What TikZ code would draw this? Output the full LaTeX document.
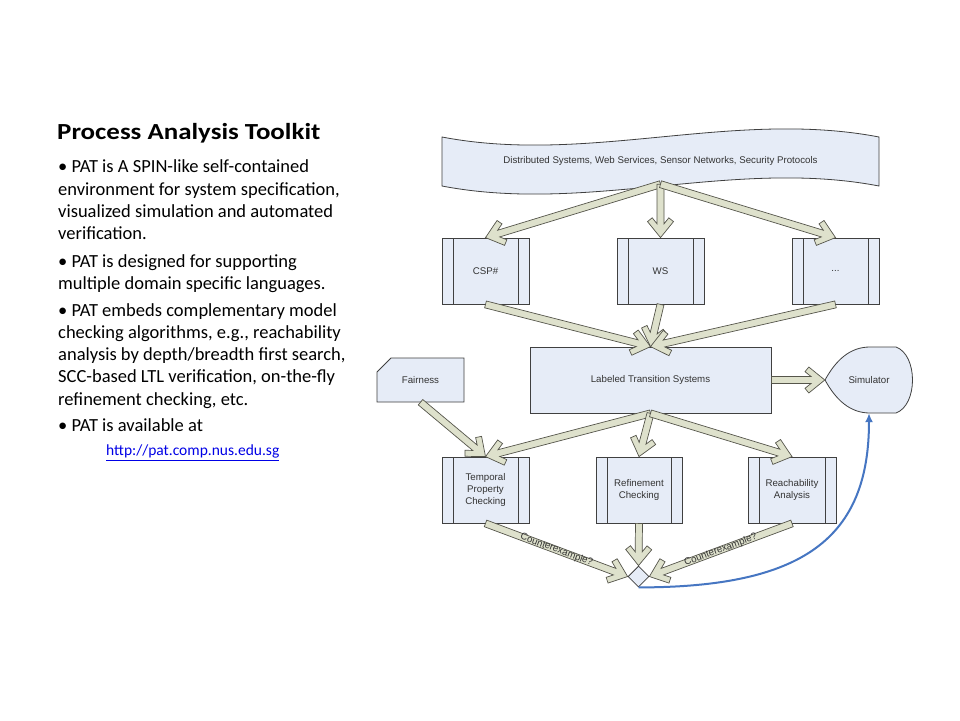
\documentclass[tikz,border=0pt]{standalone}
\usepackage{fontspec}
\setmainfont{Carlito}
\newfontfamily\diafont{Liberation Sans}
\usetikzlibrary{shapes.geometric, arrows.meta, positioning, calc}

\definecolor{boxfill}{RGB}{230,236,247}
\definecolor{boxline}{RGB}{64,64,64}
\definecolor{arrowfill}{RGB}{222,225,204}
\definecolor{arrowline}{RGB}{85,85,75}
\definecolor{simblue}{RGB}{70,118,194}
\definecolor{linkblue}{RGB}{0,0,230}
\definecolor{diatext}{RGB}{51,51,51}

% wide arrow with an open chevron head, tip at #2
\newcommand{\fatarrow}[2]{%
  \draw[fatflow] let \p1=($(#2)-(#1)$), \n1={atan2(\y1,\x1)}, \n2={veclen(\x1,\y1)} in
    [shift={(#2)}, rotate=\n1]
    (0pt,0pt) -- (-16pt,13pt) -- (-19.8pt,8.3pt) -- (-13.8pt,3.5pt) -- ({-1pt*\n2},3.5pt)
    -- ({-1pt*\n2},-3.5pt) -- (-13.8pt,-3.5pt) -- (-19.8pt,-8.3pt) -- (-16pt,-13pt) -- cycle;}

\begin{document}
\begin{tikzpicture}[
  x=1pt, y=-1pt,
  >=stealth,
  diafontsize/.style={font=\diafont\fontsize{9.7}{12}\selectfont, text=diatext},
  procbox/.style={draw=boxline, fill=boxfill, line width=0.8pt, rectangle, minimum width=87pt, minimum height=66pt, inner sep=2pt, align=center, diafontsize,
    path picture={\draw[boxline, line width=0.8pt]
      ([xshift=11pt]path picture bounding box.north west) -- ([xshift=11pt]path picture bounding box.south west)
      ([xshift=-11pt]path picture bounding box.north east) -- ([xshift=-11pt]path picture bounding box.south east);}},
  plainbox/.style={draw=boxline, fill=boxfill, line width=0.8pt, rectangle, minimum width=241pt, minimum height=66pt, align=center, diafontsize},
  textonly/.style={rectangle, inner sep=0pt, align=center, diafontsize},
  boxshape/.style={draw=boxline, fill=boxfill, line width=0.8pt, line join=miter},
  decision/.style={draw=boxline, fill=boxfill, line width=0.8pt, diamond, minimum width=21pt, minimum height=21pt, inner sep=0pt},
  fatflow/.style={draw=arrowline, fill=arrowfill, line width=0.7pt, line join=miter},
  simflow/.style={-{Latex[length=9pt, width=8pt]}, draw=simblue, line width=2pt},
  cexlabel/.style={font=\diafont\fontsize{9.7}{11}\selectfont, text=diatext, inner sep=0pt},
  titletext/.style={anchor=base west, inner sep=0pt, font=\bfseries\fontsize{23}{26}\selectfont},
  bullettext/.style={anchor=base west, inner sep=0pt, align=left, font=\fontsize{18.5}{22.3}\selectfont},
  linktext/.style={anchor=base west, inner sep=0pt, text=linkblue, font=\fontsize{15.5}{18}\selectfont}
]
\fill[white] (0,0) rectangle (960,720);
\useasboundingbox (0,0) rectangle (960,720);

% left column (base = last line)
\node[titletext] (Title) at (57,139.3) {\scalebox{1.17}[1]{Process Analysis Toolkit}};
\node[bullettext] (PatIntro) at (58,239.6) {• PAT is A SPIN-like self-contained\\environment for system specification,\\visualized simulation and automated\\verification.};
\node[bullettext] (PatLang) at (58,289.8) {• PAT is designed for supporting\\multiple domain specific languages.};
\node[bullettext] (PatAlgo) at (58,405.2) {• PAT embeds complementary model\\checking algorithms, e.g., reachability\\analysis by depth/breadth first search,\\SCC-based LTL verification, on-the-fly\\refinement checking, etc.};
\node[bullettext] (PatAvail) at (58,431) {• PAT is available at};
\node[linktext] (PatLink) at (106,455.7) {\underline{http://pat.comp.nus.edu.sg}};

% outlines drawn directly
\draw[boxshape] (442,137) .. controls (588,165) and (733,109) .. (879,137) -- (879,186)
  .. controls (733,158) and (588,214) .. (442,186) -- cycle;
\draw[boxshape] (391,358) -- (464,358) -- (464,402) -- (377,402) -- (377,372) -- cycle;
\draw[boxshape] (825,380) .. controls (836,360) and (850,347) .. (870,347) -- (896,347)
  .. controls (918,355) and (918,405) .. (896,413) -- (870,413) .. controls (850,413) and (836,400) .. cycle;

\node[textonly, minimum width=437pt, minimum height=46pt] (Banner) at (660.5,161) {Distributed Systems, Web Services, Sensor Networks, Security Protocols};

\node[procbox] (CSP) at (485.5,271) {CSP\#};
\node[procbox] (WS) at (660.5,271) {WS};
\node[procbox] (More) at (835.5,271) {...};

\node[plainbox] (LTS) at (650.5,380) {Labeled Transition Systems};
\node[textonly, minimum width=88pt, minimum height=66pt] (Sim) at (869,380) {Simulator};
\node[textonly, minimum width=87pt, minimum height=44pt] (Fair) at (420.5,380) {Fairness};

\node[procbox] (Temp) at (485.5,490) {Temporal\\Property\\Checking};
\node[procbox, minimum width=86pt] (Refine) at (639,490) {Refinement\\Checking};
\node[procbox, minimum width=88pt] (Reach) at (792,490) {Reachability\\Analysis};

\node[decision] (Dec) at (638.5,576.5) {};

\fatarrow{Banner.south}{CSP.north}
\fatarrow{Banner.south}{WS.north}
\fatarrow{Banner.south}{More.north}

\fatarrow{CSP.south}{LTS.north}
\fatarrow{WS.south}{LTS.north}
\fatarrow{More.south}{LTS.north}

\fatarrow{LTS.east}{Sim.west}

\fatarrow{Fair.south}{Temp.north}
\fatarrow{LTS.south}{Temp.north}
\fatarrow{LTS.south}{Refine.north}
\fatarrow{LTS.south}{Reach.north}

\fatarrow{Temp.south}{Dec.west}
\fatarrow{Refine.south}{Dec.north}
\fatarrow{Reach.south}{Dec.east}

\path (Temp.south) -- (Dec.west) node[cexlabel, midway, sloped] (CexL) {Counterexample?};
\path (Reach.south) -- (Dec.east) node[cexlabel, midway, sloped] (CexR) {Counterexample?};

\draw[simflow] (Dec.south) .. controls ($(Dec.south)+(165,0)$) and ($(Sim.south)+(0,125)$) .. (Sim.south);
\end{tikzpicture}
\end{document}
